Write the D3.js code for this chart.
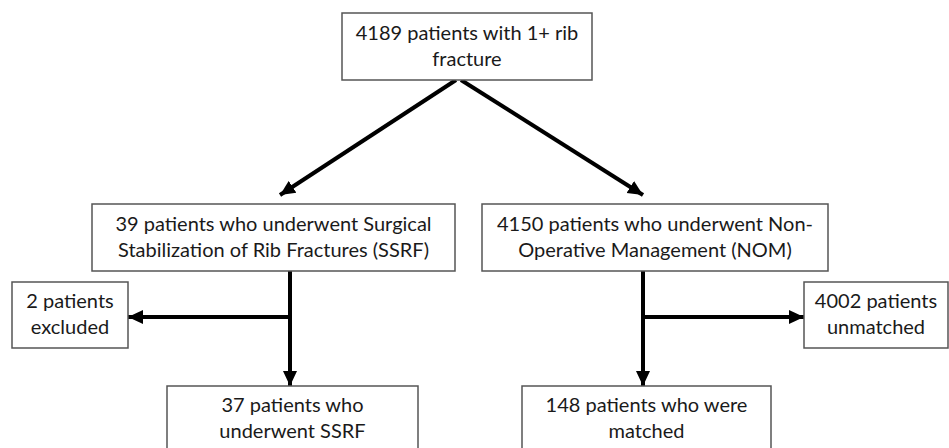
<!DOCTYPE html>
<html>
<head>
<meta charset="utf-8">
<script src="https://cdn.jsdelivr.net/npm/d3@7"></script>
<style>
  body { margin: 0; background: #fff; }
  svg text { font-family: "Lato", "Open Sans", sans-serif; fill: #1a1a1a; }
</style>
</head>
<body>
<svg id="chart" width="949" height="448"></svg>
<script>
// counts in the flow
var totalPatients = [4189];
var groupCounts = [39, 4150];       // SSRF, NOM
var removedCounts = [2, 4002];      // excluded, unmatched
var finalCounts = [37, 148];        // SSRF, matched

// box labels, one entry per line
var boxLabels = {
  top: [totalPatients[0] + " patients with 1+ rib", "fracture"],
  ssrf: [groupCounts[0] + " patients who underwent Surgical", "Stabilization of Rib Fractures (SSRF)"],
  nom: [groupCounts[1] + " patients who underwent Non-", "Operative Management (NOM)"],
  excluded: [removedCounts[0] + " patients", "excluded"],
  unmatched: [removedCounts[1] + " patients", "unmatched"],
  ssrfFinal: [finalCounts[0] + " patients who", "underwent SSRF"],
  matched: [finalCounts[1] + " patients who were", "matched"]
};

// layout (pixels)
var boxes = {
  top:       {x: 342, y: 13,  w: 250, h: 67},
  ssrf:      {x: 92,  y: 204, w: 363, h: 67},
  nom:       {x: 482, y: 204, w: 346, h: 67},
  excluded:  {x: 12,  y: 282, w: 116, h: 66},
  unmatched: {x: 804, y: 282, w: 144, h: 66},
  ssrfFinal: {x: 167, y: 386, w: 251, h: 70},
  matched:   {x: 522, y: 386, w: 249, h: 70}
};

var links = [
  {x1: 456, y1: 80,  x2: 280, y2: 195},
  {x1: 461, y1: 80,  x2: 643, y2: 195},
  {x1: 290, y1: 271, x2: 290, y2: 386},
  {x1: 290, y1: 317, x2: 128, y2: 317},
  {x1: 643, y1: 271, x2: 643, y2: 386},
  {x1: 643, y1: 317, x2: 804, y2: 317}
];

var svg = d3.select("#chart");

svg.append("defs").append("marker")
  .attr("id", "arrow")
  .attr("markerUnits", "userSpaceOnUse")
  .attr("viewBox", "0 -8 15 16")
  .attr("refX", 15)
  .attr("refY", 0)
  .attr("markerWidth", 15)
  .attr("markerHeight", 16)
  .attr("orient", "auto")
  .append("path")
  .attr("d", "M0,-7L15,0L0,7Z")
  .attr("fill", "#000");

// connectors
svg.selectAll("line.link")
  .data(links)
  .enter().append("line")
  .attr("class", "link")
  .attr("x1", d => d.x1)
  .attr("y1", d => d.y1)
  .attr("x2", d => d.x2)
  .attr("y2", d => d.y2)
  .attr("stroke", "#000")
  .attr("stroke-width", 4)
  .attr("marker-end", "url(#arrow)");

var nodes = Object.keys(boxes).map(k => Object.assign({key: k, lines: boxLabels[k]}, boxes[k]));

var g = svg.selectAll("g.box")
  .data(nodes)
  .enter().append("g")
  .attr("class", "box")
  .attr("transform", d => "translate(" + d.x + "," + d.y + ")");

g.append("rect")
  .attr("width", d => d.w)
  .attr("height", d => d.h)
  .attr("fill", "#fff")
  .attr("stroke", "#555")
  .attr("stroke-width", 1.5);

g.each(function(d) {
  var lineH = 26;
  // bottom boxes run off the page, so centre their text on the visible part
  var mid = d.key === "ssrfFinal" || d.key === "matched" ? 33 : d.h / 2;
  var first = mid - lineH / 2 + 6;
  d3.select(this).selectAll("text")
    .data(d.lines)
    .enter().append("text")
    .attr("x", d.w / 2)
    .attr("y", (t, i) => first + i * lineH)
    .attr("text-anchor", "middle")
    .attr("font-size", 20)
    .text(t => t);
});
</script>
</body>
</html>
